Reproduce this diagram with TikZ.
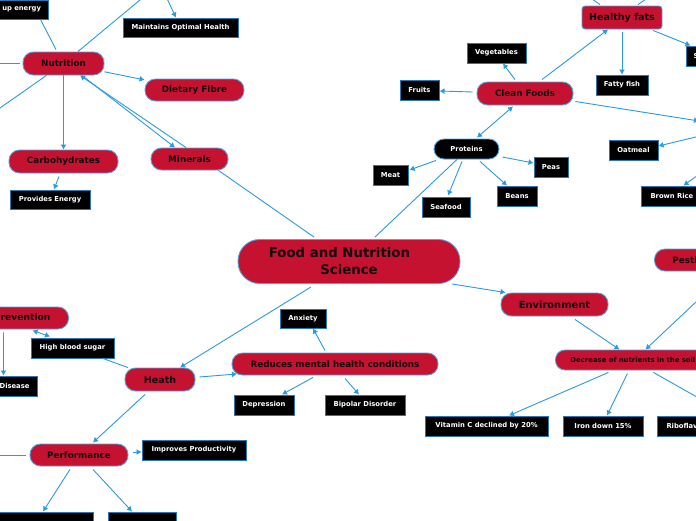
\documentclass[tikz,border=0pt]{standalone}
\usepackage{fontspec}
\setmainfont{DejaVu Sans}
\usetikzlibrary{arrows.meta,calc}
\definecolor{pillred}{RGB}{196,18,48}
\definecolor{pillborder}{RGB}{80,165,225}
\definecolor{linkblue}{RGB}{40,155,225}
\definecolor{boxborder}{RGB}{40,120,180}
\definecolor{pilltext}{RGB}{20,10,15}
\tikzset{
  pill/.style={rectangle, rounded corners=10.5pt, fill=pillred, draw=pillborder, line width=0.9pt, inner sep=0pt, text=pilltext, font=\bfseries\fontsize{8.8}{10.5}\selectfont, minimum height=22pt},
  bbox/.style={rectangle, fill=black, draw=boxborder, line width=1pt, inner sep=0pt, text=white, font=\bfseries\fontsize{6.8}{8}\selectfont, minimum height=20pt},
  conn/.style={draw=linkblue, line width=0.9pt},
  arr/.style={conn, -{Latex[length=5pt,width=6pt]}},
  arrboth/.style={conn, {Latex[length=5pt,width=6pt]}-{Latex[length=5pt,width=6pt]}},
}
\begin{document}
\begin{tikzpicture}[x=1pt,y=-1pt]
\useasboundingbox (0,0) rectangle (696,520);
\clip (0,0) rectangle (696,520);
\fill[white] (0,0) rectangle (696,520);

% central
\node[pill, rounded corners=21.5pt, minimum width=222pt, minimum height=44pt, align=center, font=\bfseries\fontsize{13.3}{17}\selectfont] (central) at (349,261.5) {Food and Nutrition\hspace*{19pt}\\Science};

% nutrition branch
\node[pill, minimum width=81pt, minimum height=23pt] (nutrition) at (63.5,63.5) {Nutrition};
\node[pill, minimum width=99pt] (dietary) at (194.5,90) {Dietary Fibre};
\node[pill, minimum width=77pt] (minerals) at (189.5,159) {Minerals};
\node[pill, minimum width=109pt, minimum height=23pt] (carbs) at (63.5,161.5) {Carbohydrates};
\node[bbox, minimum width=80pt, minimum height=19pt] (provides) at (50,199.5) {Provides Energy};
\node[bbox, minimum height=19pt, text width=64pt, inner xsep=7pt, align=right] (upenergy) at (9,9.5) {up energy};
\node[bbox, minimum width=115pt, minimum height=19pt] (maintains) at (180.5,27.5) {Maintains Optimal Health};

% clean foods branch
\node[pill, minimum width=96pt, minimum height=23pt] (cleanfoods) at (525,93.5) {Clean Foods};
\node[bbox, minimum width=59pt] (vegetables) at (496.5,53) {Vegetables};
\node[bbox, minimum width=39pt] (fruits) at (419.5,90) {Fruits};
\node[pill, rounded corners=3pt, minimum width=80pt, minimum height=23pt, font=\bfseries\fontsize{9.5}{11}\selectfont] (healthyfats) at (622,17.5) {Healthy fats};
\node[bbox, minimum width=52pt] (fattyfish) at (622,85) {Fatty fish};
\node[bbox, anchor=west, text width=20pt, inner xsep=7pt, align=left] (sbox) at (686,56) {S};
\node[bbox, minimum width=49pt] (oatmeal) at (633.5,150) {Oatmeal};
\node[bbox, anchor=west, text width=50pt, inner xsep=9pt, align=left] (brownrice) at (641,196) {Brown Rice};
\node[pill, fill=black, text=white, rounded corners=10pt, minimum width=65pt, minimum height=20pt, font=\bfseries\fontsize{6.8}{8}\selectfont] (proteins) at (466.5,149) {Proteins};
\node[bbox, minimum width=35pt] (meat) at (390.5,175) {Meat};
\node[bbox, minimum width=48pt] (seafood) at (446,207) {Seafood};
\node[bbox, minimum width=40pt] (beans) at (517,196) {Beans};
\node[bbox, minimum width=34pt] (peas) at (551,167) {Peas};

% environment branch
\node[pill, minimum width=107pt, minimum height=23pt, font=\bfseries\fontsize{9.9}{12}\selectfont] (environment) at (554.5,304.5) {Environment};
\node[pill, anchor=west, text width=76pt, inner xsep=18pt, align=left] (pesti) at (654,260) {Pesti};
\node[pill, anchor=west, minimum height=20pt, rounded corners=9.5pt, text width=137pt, inner xsep=15pt, align=left, font=\bfseries\fontsize{6.9}{8.3}\selectfont] (decrease) at (555,360) {Decrease of nutrients in the soil};
\node[bbox, minimum width=123pt] (vitaminc) at (486.5,426) {Vitamin C declined by 20\%};
\node[bbox, minimum width=80pt] (iron) at (603,426) {Iron down 15\%};
\node[bbox, anchor=west, text width=60pt, inner xsep=9pt, align=left] (ribo) at (657,426) {Riboflav};

% health branch
\node[pill, minimum width=70pt, minimum height=23pt, font=\bfseries\fontsize{9.5}{11}\selectfont] (heath) at (160,379.5) {Heath};
\node[pill, minimum width=206pt] (reduces) at (335,364) {Reduces mental health conditions};
\node[bbox, minimum width=46pt, minimum height=19pt] (anxiety) at (303,318.5) {Anxiety};
\node[bbox, minimum width=60pt] (depression) at (264,405) {Depression};
\node[bbox, minimum width=80pt] (bipolar) at (365,405) {Bipolar Disorder};
\node[bbox, minimum width=83pt] (highblood) at (72.5,348) {High blood sugar};
\node[pill, anchor=east, text width=80pt, inner xsep=18pt, align=right, font=\bfseries\fontsize{9.2}{11}\selectfont] (prevention) at (69,318) {prevention};
\node[bbox, anchor=east, text width=50pt, inner xsep=8pt, align=right] (disease) at (38,386) {Disease};
\node[pill, minimum width=98pt] (performance) at (79,455) {Performance};
\node[bbox, minimum width=104pt] (improves) at (194,450) {Improves Productivity};
\node[bbox, minimum width=103pt] (boxa) at (41.5,522) {};
\node[bbox, minimum width=68pt] (boxb) at (142,522) {};

% free ends
\coordinate (ntop) at (152,-10);
\coordinate (mtop) at (164,-8);
\coordinate (nleft) at (-10,63.5);
\coordinate (nbl) at (-20,122);
\coordinate (hfa) at (586,-5);
\coordinate (hfb) at (652,-5);
\coordinate (gin) at (699,121);
\coordinate (gout1) at (702,135.5);
\coordinate (gout2) at (701,173);
\coordinate (pleft) at (-10,455);

% nutrition connectors
\draw[conn] (nutrition) -- (ntop);
\draw[arr] (mtop) -- (maintains);
\draw[conn] ($(upenergy.south east)+(-8,0)$) -- ($(nutrition.north)+(-7.5,-2)$);
\draw[conn] (nleft) -- ($(nutrition.west)+(-3,0)$);
\draw[conn] (nutrition) -- (nbl);
\draw[arr] (nutrition) -- (carbs);
\draw[arr] (nutrition) -- (dietary);
\draw[arr] ($(nutrition.south)+(18.5,0)$) -- ($(minerals.north)+(-14.5,0)$);
\draw[arr] ($(minerals.north)+(-3.5,0)$) -- ($(nutrition.south)+(16.5,0)$);
\draw[conn] ($(minerals.south east)+(-10,0)$) -- ($(central.north)+(-35,-2)$);
\draw[arr] ($(carbs.south)+(-4.5,3)$) -- ($(provides.north)+(4,0)$);

% clean foods connectors
\draw[arrboth] ($(cleanfoods.south)+(-12,1)$) -- ($(proteins.north)+(10.5,-1)$);
\draw[arr] ($(cleanfoods.north)+(-10,-2)$) -- ($(vegetables.south)+(6.5,0)$);
\draw[arr] ($(cleanfoods.west)+(-4,-1.5)$) -- ($(fruits.east)+(0,1)$);
\draw[arr] ($(cleanfoods.north)+(17,-2)$) -- ($(healthyfats.south)+(-14,0)$);
\draw[conn] ($(healthyfats.north)+(-22,-1)$) -- (hfa);
\draw[conn] ($(healthyfats.north)+(16,-1)$) -- (hfb);
\draw[arr] ($(healthyfats.south)+(0,3)$) -- (fattyfish.north);
\draw[arr] ($(healthyfats.south)+(31,1)$) -- ($(sbox.north)+(-13,0)$);
\draw[arr] ($(cleanfoods.east)+(2,8)$) -- (gin);
\draw[arr] (gout1) -- ($(oatmeal.east)+(0,-4)$);
\draw[arr] (gout2) -- ($(brownrice.north)+(8,0)$);

% proteins connectors
\draw[conn] ($(proteins.south)+(-9.5,0)$) -- ($(central.north)+(26,-2)$);
\draw[arr] ($(proteins.south)+(-30.5,1)$) -- ($(meat.east)+(1,-5)$);
\draw[arr] ($(proteins.south)+(-4.5,2)$) -- ($(seafood.north)+(2,-1)$);
\draw[arr] ($(proteins.south)+(13.5,2)$) -- ($(beans.north)+(-10,0)$);
\draw[arr] ($(proteins.east)+(3,8)$) -- ($(peas.west)+(0,-4)$);

% environment connectors
\draw[arr] ($(central.south)+(103,0)$) -- ($(environment.north)+(-49,0)$);
\draw[arr] ($(environment.south)+(20.5,3)$) -- ($(decrease.north)+(-19.5,0)$);
\draw[arr] ($(pesti.south)+(18,0)$) -- ($(decrease.north)+(6.5,0)$);
\draw[arr] ($(decrease.south)+(-30.5,2)$) -- ($(vitaminc.north)+(22.5,0)$);
\draw[arr] ($(decrease.south)+(-11.5,3)$) -- ($(iron.north)+(4,0)$);
\draw[arr] ($(decrease.south)+(14.5,2)$) -- ($(ribo.north)+(33,0)$);

% health connectors
\draw[arr] ($(central.south)+(-38,3)$) -- ($(heath.north)+(20,0)$);
\draw[arr] ($(heath.east)+(4,-2.5)$) -- ($(reduces.south)+(-98,-1.5)$);
\draw[arr] ($(reduces.north)+(-10,-2)$) -- ($(anxiety.south)+(10,0)$);
\draw[arr] ($(reduces.south)+(-22,2)$) -- ($(depression.north)+(18,0)$);
\draw[arr] ($(reduces.south)+(10,3)$) -- ($(bipolar.north)+(-6,0)$);
\draw[conn] ($(heath.north)+(-32,0)$) -- ($(highblood.south)+(30.5,0)$);
\draw[arrboth] ($(prevention.south)+(22,1)$) -- ($(highblood.north)+(-22.5,-1)$);
\draw[arr] ($(prevention.south)+(-7,3)$) -- ($(disease.north)+(-1,0)$);
\draw[arr] ($(heath.south)+(-15,3)$) -- ($(performance.north)+(14,-1)$);
\draw[conn] (pleft) -- ($(performance.west)+(-4,0)$);
\draw[arr] ($(performance.east)+(5,-3)$) -- ($(improves.west)+(0,2)$);
\draw[arr] ($(performance.south)+(-9,3)$) -- ($(boxa.north)+(1.5,0)$);
\draw[arr] ($(performance.south)+(14,3)$) -- ($(boxb.north)+(-10,0)$);
\end{tikzpicture}
\end{document}
